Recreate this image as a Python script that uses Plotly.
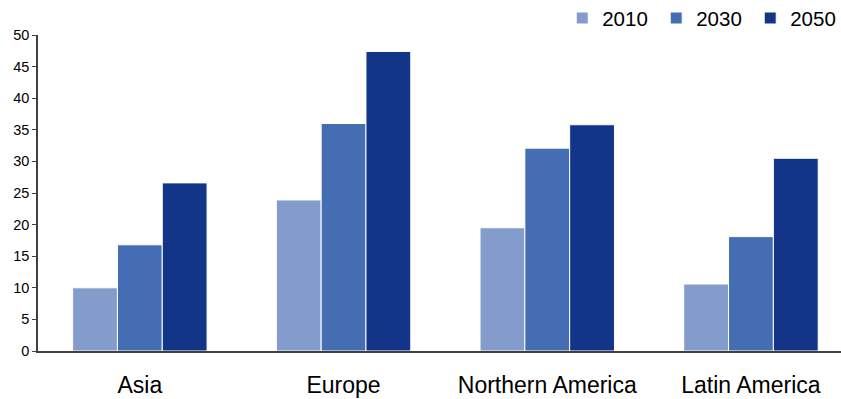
import plotly.graph_objects as go

# Regions along the horizontal axis
regions = ["Asia", "Europe", "Northern America", "Latin America"]

# Values per year
years = ["2010", "2030", "2050"]
values_2010 = [10.0, 23.9, 19.5, 10.6]
values_2030 = [16.8, 36.0, 32.1, 18.1]
values_2050 = [26.6, 47.4, 35.8, 30.5]

y_ticks = [0, 5, 10, 15, 20, 25, 30, 35, 40, 45, 50]

series = [values_2010, values_2030, values_2050]
colors = ["#839CCB", "#456DB4", "#123489"]

fig = go.Figure()
for name, vals, col in zip(years, series, colors):
    fig.add_trace(go.Bar(
        x=regions, y=vals, name=name,
        marker=dict(color=col, line=dict(color="#FFFFFF", width=1)),
    ))

font_family = "Liberation Sans, Arial, sans-serif"

fig.update_layout(
    width=841, height=399,
    margin=dict(l=38, r=0, t=35, b=48, autoexpand=False),
    paper_bgcolor="white", plot_bgcolor="white",
    barmode="group", bargap=0.34, bargroupgap=0,
    font=dict(family=font_family, color="#000000"),
    showlegend=True,
    legend=dict(
        orientation="h", x=1.004, xanchor="right", y=0.99, yanchor="bottom",
        font=dict(size=20.5, family=font_family),
        entrywidth=49, entrywidthmode="pixels",
        bgcolor="rgba(0,0,0,0)", traceorder="normal",
    ),
    xaxis=dict(
        type="category", range=[-0.5, 3.442], automargin=False,
        showline=True, linecolor="#404040", linewidth=1.5,
        ticks="", showgrid=False, zeroline=False,
        tickfont=dict(size=23, family=font_family),
        ticklabelstandoff=13,
    ),
    yaxis=dict(
        range=[0, 50], tickvals=y_ticks, automargin=False,
        showline=True, linecolor="#404040", linewidth=1.5,
        ticks="outside", ticklen=4, tickcolor="#404040", tickwidth=1,
        showgrid=False, zeroline=False,
        tickfont=dict(size=14.5, family=font_family),
    ),
)

fig.write_html("out.html")
